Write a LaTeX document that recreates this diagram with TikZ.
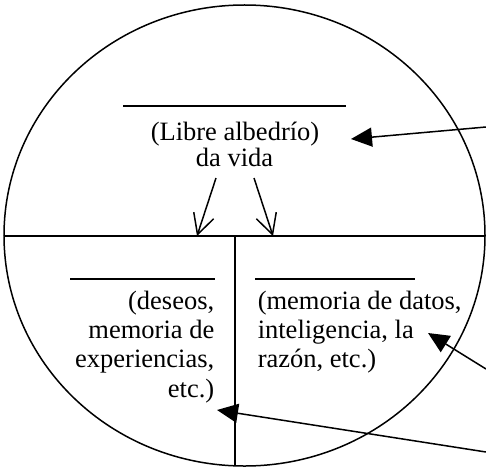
\documentclass[tikz,border=0pt]{standalone}
\usepackage{fontspec}
\setmainfont{Liberation Serif}
\usetikzlibrary{arrows.meta,shapes.geometric}
\begin{document}
\begin{tikzpicture}[x=1pt,y=-1pt,
  line width=1.5pt,
  txt/.style={inner sep=0pt,font=\fontsize{26.5}{30}\selectfont},
  blank/.style={line width=1.2pt},
  openarrow/.style={-{Straight Barb[length=20pt,width=21pt]}},
  fillarrow/.style={-{Triangle[length=21pt,width=19pt]}}]
\useasboundingbox (0,0) rectangle (486,468);
% circle
\node[draw,ellipse,minimum width=481pt,minimum height=461pt,inner sep=0pt,line width=1.5pt] (c) at (244.5,235.5) {};
\coordinate (hl) at (4,236);
\coordinate (hr) at (485,236);
\draw (hl) -- (hr);
\coordinate (vt) at (235,236);
\coordinate (vb) at (235,466);
\draw (vt) -- (vb);
% top block
\coordinate (u1a) at (123,106);
\coordinate (u1b) at (346,106);
\draw[blank] (u1a) -- (u1b);
\node[txt,anchor=base] (lib) at (235,140) {(Libre albedrío)};
\node[txt,anchor=base] (vida) at (234.5,166) {da vida};
% down arrows
\coordinate (d1s) at (216,178);
\coordinate (d1e) at (197,236);
\coordinate (d2s) at (254,178);
\coordinate (d2e) at (273,236);
\draw[openarrow] (d1s) -- (d1e);
\draw[openarrow] (d2s) -- (d2e);
% lower left block
\coordinate (u2a) at (70,279);
\coordinate (u2b) at (215,279);
\draw[blank] (u2a) -- (u2b);
\node[txt,anchor=base east] (l1) at (215,309) {(deseos,};
\node[txt,anchor=base east] (l2) at (215,338) {memoria de};
\node[txt,anchor=base east] (l3) at (215,367) {experiencias,};
\node[txt,anchor=base east] (l4) at (215,397) {etc.)};
% lower right block
\coordinate (u3a) at (255,279);
\coordinate (u3b) at (415,279);
\draw[blank] (u3a) -- (u3b);
\node[txt,anchor=base west] (r1) at (257,309) {(memoria de datos,};
\node[txt,anchor=base west] (r2) at (257,338) {inteligencia, la};
\node[txt,anchor=base west] (r3) at (257,367) {razón, etc.)};
% pointing arrows
\coordinate (a1s) at (486,127);
\coordinate (a1e) at (351,139);
\coordinate (a2s) at (486,369);
\coordinate (a2e) at (428,333);
\coordinate (a3s) at (486,452);
\coordinate (a3e) at (217,410);
\draw[fillarrow] (a1s) -- (a1e);
\draw[fillarrow] (a2s) -- (a2e);
\draw[fillarrow] (a3s) -- (a3e);
\end{tikzpicture}
\end{document}
